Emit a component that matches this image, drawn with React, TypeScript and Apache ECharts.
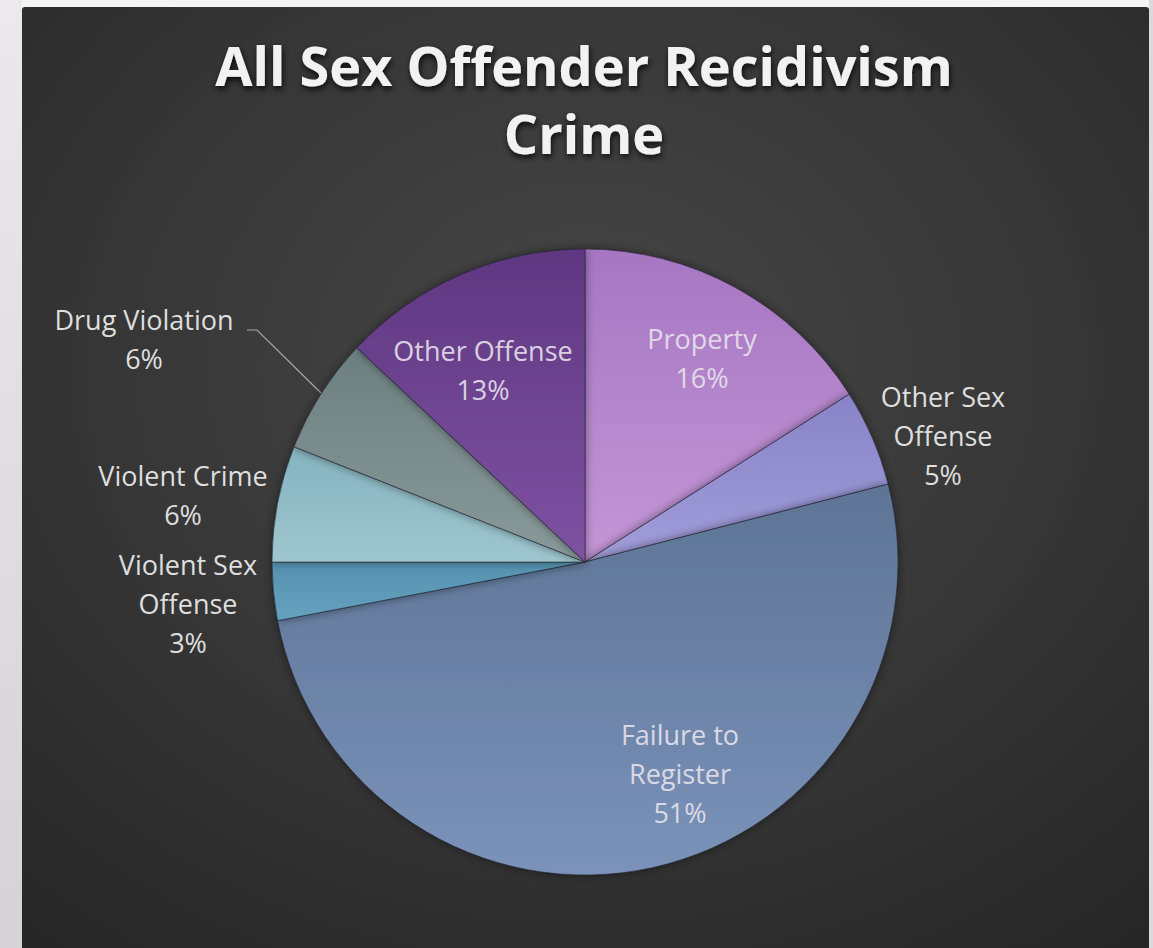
import React, { useEffect, useRef } from "react";
import * as echarts from "echarts";

const categories = [
  "Property",
  "Other Sex Offense",
  "Failure to Register",
  "Violent Sex Offense",
  "Violent Crime",
  "Drug Violation",
  "Other Offense",
];
const labelTexts = [
  "Property",
  "Other Sex\nOffense",
  "Failure to\nRegister",
  "Violent Sex\nOffense",
  "Violent Crime",
  "Drug Violation",
  "Other Offense",
];
const percentValues = [16, 5, 51, 3, 6, 6, 13];

const sliceColors: [string, string][] = [
  ["#a676c2", "#c496d6"],
  ["#8883c6", "#a29edb"],
  ["#5d7495", "#7b92ba"],
  ["#5592b0", "#66a2bf"],
  ["#84b3bf", "#9fc6ce"],
  ["#6c7f7f", "#8a9a9a"],
  ["#5f3781", "#7e52a2"],
];

// label anchor (center of text block) per slice, in pixels
const labelCenters: [number, number][] = [
  [702, 358],
  [943, 435],
  [680, 773],
  [188, 603],
  [183, 495],
  [144, 339],
  [483, 370],
];

export default function App() {
  const ref = useRef<HTMLDivElement>(null);
  useEffect(() => {
    if (!ref.current) return;
    const chart = echarts.init(ref.current, null, { renderer: "svg" });
    const data = categories.map((name, i) => ({
      name,
      value: percentValues[i],
      itemStyle: {
        color: new echarts.graphic.LinearGradient(0, 0, 0, 1, [
          { offset: 0, color: sliceColors[i][0] },
          { offset: 1, color: sliceColors[i][1] },
        ]),
      },
      label: {
        color: [0, 6, 2].includes(i) ? "rgba(232,228,236,0.9)" : "#dedede",
      },
      labelLine: { show: name === "Drug Violation" },
    }));
    chart.setOption({
      animation: false,
      backgroundColor: "#f4f4f4",
      title: {
        text: "All Sex Offender Recidivism\nCrime",
        left: 584,
        top: 31,
        textAlign: "center",
        padding: 0,
        textStyle: {
          color: "#f2f2f2",
          fontFamily: "Open Sans",
          fontWeight: "bold",
          fontSize: 54,
          lineHeight: 68,
          textShadowColor: "rgba(0,0,0,0.85)",
          textShadowBlur: 6,
          textShadowOffsetX: 1,
          textShadowOffsetY: 3,
        },
      },
      graphic: [
        {
          type: "rect",
          z: -10,
          silent: true,
          shape: { x: 0, y: 0, width: 22, height: 948 },
          style: {
            fill: new echarts.graphic.LinearGradient(0, 0, 0, 1, [
              { offset: 0, color: "#ebe9eb" },
              { offset: 1, color: "#d6d2d6" },
            ]),
          },
        },
        {
          type: "rect",
          z: -10,
          silent: true,
          shape: { x: 1149, y: 0, width: 4, height: 948 },
          style: { fill: "#dcd8dc" },
        },
        {
          type: "rect",
          z: -9,
          silent: true,
          shape: { x: 22, y: 7, width: 1127, height: 941, r: [3, 3, 0, 0] },
          style: {
            fill: new echarts.graphic.RadialGradient(0.5, 0.38, 0.78, [
              { offset: 0, color: "#474747" },
              { offset: 0.55, color: "#363636" },
              { offset: 1, color: "#262626" },
            ]),
          },
        },
      ],
      series: [
        {
          type: "pie",
          center: [585, 562],
          radius: [0, 313],
          startAngle: 90,
          clockwise: true,
          avoidLabelOverlap: false,
          data,
          itemStyle: {
            borderColor: "rgba(30,30,40,0.55)",
            borderWidth: 1,
            shadowBlur: 10,
            shadowColor: "rgba(0,0,0,0.45)",
          },
          emphasis: { disabled: true },
          label: {
            show: true,
            position: "outside",
            formatter: (p: any) => `${labelTexts[p.dataIndex]}\n${p.value}%`,
            color: "#dedede",
            fontFamily: "Open Sans",
            fontSize: 27,
            lineHeight: 39,
            align: "center",
          },
          labelLine: {
            show: false,
            lineStyle: { color: "#a8a8a8", width: 1.2 },
          },
          labelLayout: (params: any) => {
            const c = labelCenters[params.dataIndex];
            const out: any = {
              x: c[0],
              y: c[1],
              align: "center",
              verticalAlign: "middle",
            };
            if (categories[params.dataIndex] === "Drug Violation") {
              out.labelLinePoints = [
                [321, 393],
                [257, 330],
                [247, 330],
              ];
            }
            return out;
          },
        },
      ],
    });
    return () => chart.dispose();
  }, []);
  return (
    <div
      ref={ref}
      style={{ position: "absolute", left: 0, top: 0, width: 1153, height: 948 }}
    />
  );
}
